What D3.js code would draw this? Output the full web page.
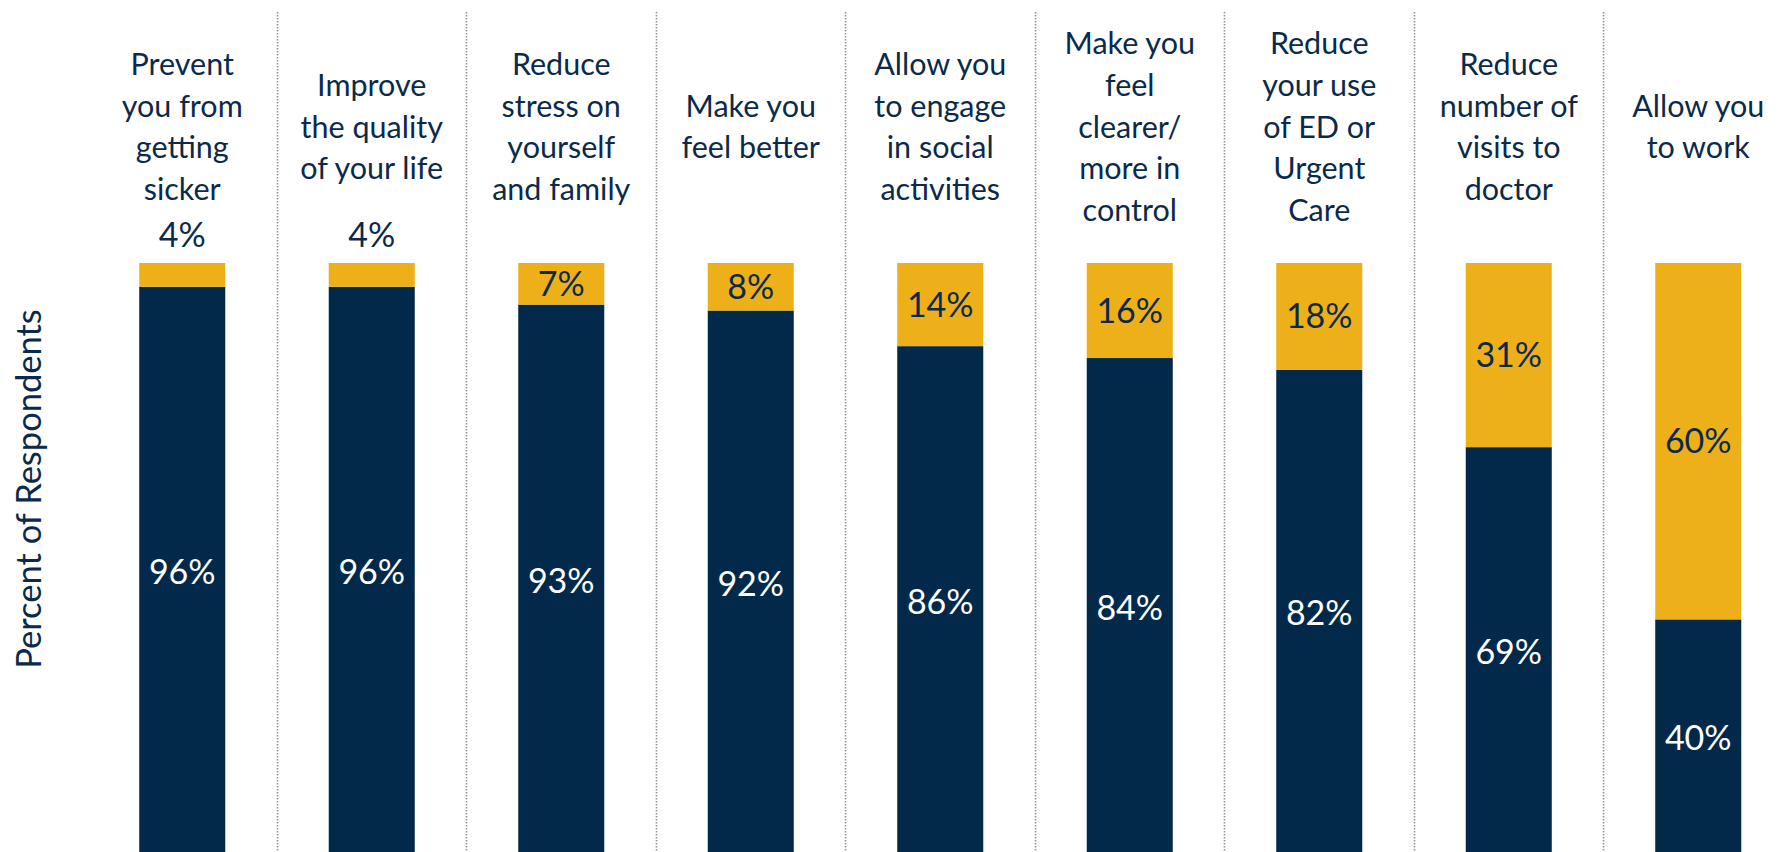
<!DOCTYPE html>
<html>
<head>
<meta charset="utf-8">
<script src="https://cdn.jsdelivr.net/npm/d3@7"></script>
<style>
  html, body { margin: 0; padding: 0; background: #ffffff; }
  svg { display: block; }
  text { font-family: Lato, "Open Sans", sans-serif; }
</style>
</head>
<body>
<svg id="chart" width="1781" height="852"></svg>
<script>
// ---- data ----
const categories = [
  "Prevent you from getting sicker",
  "Improve the quality of your life",
  "Reduce stress on yourself and family",
  "Make you feel better",
  "Allow you to engage in social activities",
  "Make you feel clearer/ more in control",
  "Reduce your use of ED or Urgent Care",
  "Reduce number of visits to doctor",
  "Allow you to work"
];
const categoryLines = [
  ["Prevent", "you from", "getting", "sicker"],
  ["Improve", "the quality", "of your life"],
  ["Reduce", "stress on", "yourself", "and family"],
  ["Make you", "feel better"],
  ["Allow you", "to engage", "in social", "activities"],
  ["Make you", "feel", "clearer/", "more in", "control"],
  ["Reduce", "your use", "of ED or", "Urgent", "Care"],
  ["Reduce", "number of", "visits to", "doctor"],
  ["Allow you", "to work"]
];
const bottomValues = [96, 96, 93, 92, 86, 84, 82, 69, 40];   // navy segment
const topValues    = [4, 4, 7, 8, 14, 16, 18, 31, 60];       // gold segment
const yAxisTitle = "Percent of Respondents";

// ---- styles ----
const NAVY = "#02294A", GOLD = "#EEB018", TEXT = "#0B2A4B";

const svg = d3.select("#chart");

const x = d3.scaleBand()
  .domain(categories)
  .range([87.5, 87.5 + 9 * 189.5])
  .paddingInner(0.546)
  .paddingOuter(0.273);

const y = d3.scaleLinear().domain([0, 100]).range([857, 263]);

const step = x.step();

// dotted separators between categories
svg.append("g").selectAll("line")
  .data(categories.slice(1))
  .join("line")
  .attr("x1", d => Math.round(x(d) - (step - x.bandwidth()) / 2) + 0.5)
  .attr("x2", d => Math.round(x(d) - (step - x.bandwidth()) / 2) + 0.5)
  .attr("y1", 12)
  .attr("y2", 852)
  .attr("stroke", "#959595")
  .attr("stroke-width", 1.6)
  .attr("stroke-dasharray", "1.5,1.5");

// stacked bars
const rows = categories.map((c, i) => ({ c, bottom: bottomValues[i], top: topValues[i], lines: categoryLines[i] }));

const g = svg.append("g");
g.selectAll("rect.bottom")
  .data(rows)
  .join("rect")
  .attr("class", "bottom")
  .attr("x", d => x(d.c))
  .attr("width", x.bandwidth())
  .attr("y", d => y(d.bottom))
  .attr("height", d => y(0) - y(d.bottom))
  .attr("fill", NAVY);

g.selectAll("rect.top")
  .data(rows)
  .join("rect")
  .attr("class", "top")
  .attr("x", d => x(d.c))
  .attr("width", x.bandwidth())
  .attr("y", d => y(d.bottom + d.top))
  .attr("height", d => y(d.bottom) - y(d.bottom + d.top))
  .attr("fill", GOLD);

// value labels
const vfs = 34;
g.selectAll("text.bv")
  .data(rows)
  .join("text")
  .attr("class", "bv")
  .attr("x", d => x(d.c) + x.bandwidth() / 2)
  .attr("y", d => (y(0) + y(d.bottom)) / 2 + 12)
  .attr("text-anchor", "middle")
  .attr("font-size", vfs)
  .attr("fill", "#ffffff")
  .text(d => d.bottom + "%");

g.selectAll("text.tv")
  .data(rows)
  .join("text")
  .attr("class", "tv")
  .attr("x", d => x(d.c) + x.bandwidth() / 2)
  .attr("y", d => d.top < 6 ? y(d.bottom + d.top) - 16 : (y(d.bottom) + y(d.bottom + d.top)) / 2 + 12)
  .attr("text-anchor", "middle")
  .attr("font-size", vfs)
  .attr("fill", TEXT)
  .text(d => d.top + "%");

// category labels (vertically centred block)
const lh = 41.7;
const cat = svg.append("g").selectAll("text.cat")
  .data(rows)
  .join("text")
  .attr("class", "cat")
  .attr("text-anchor", "middle")
  .attr("font-size", 30.5)
  .attr("fill", TEXT);
cat.each(function(d) {
  const t = d3.select(this);
  const n = d.lines.length;
  d.lines.forEach((ln, i) => {
    t.append("tspan")
      .attr("x", x(d.c) + x.bandwidth() / 2)
      .attr("y", 137.5 + (i - (n - 1) / 2) * lh)
      .text(ln);
  });
});

// y-axis title
svg.append("text")
  .attr("transform", "translate(41,489) rotate(-90)")
  .attr("text-anchor", "middle")
  .attr("font-size", 34.5)
  .attr("fill", TEXT)
  .text(yAxisTitle);
</script>
</body>
</html>
